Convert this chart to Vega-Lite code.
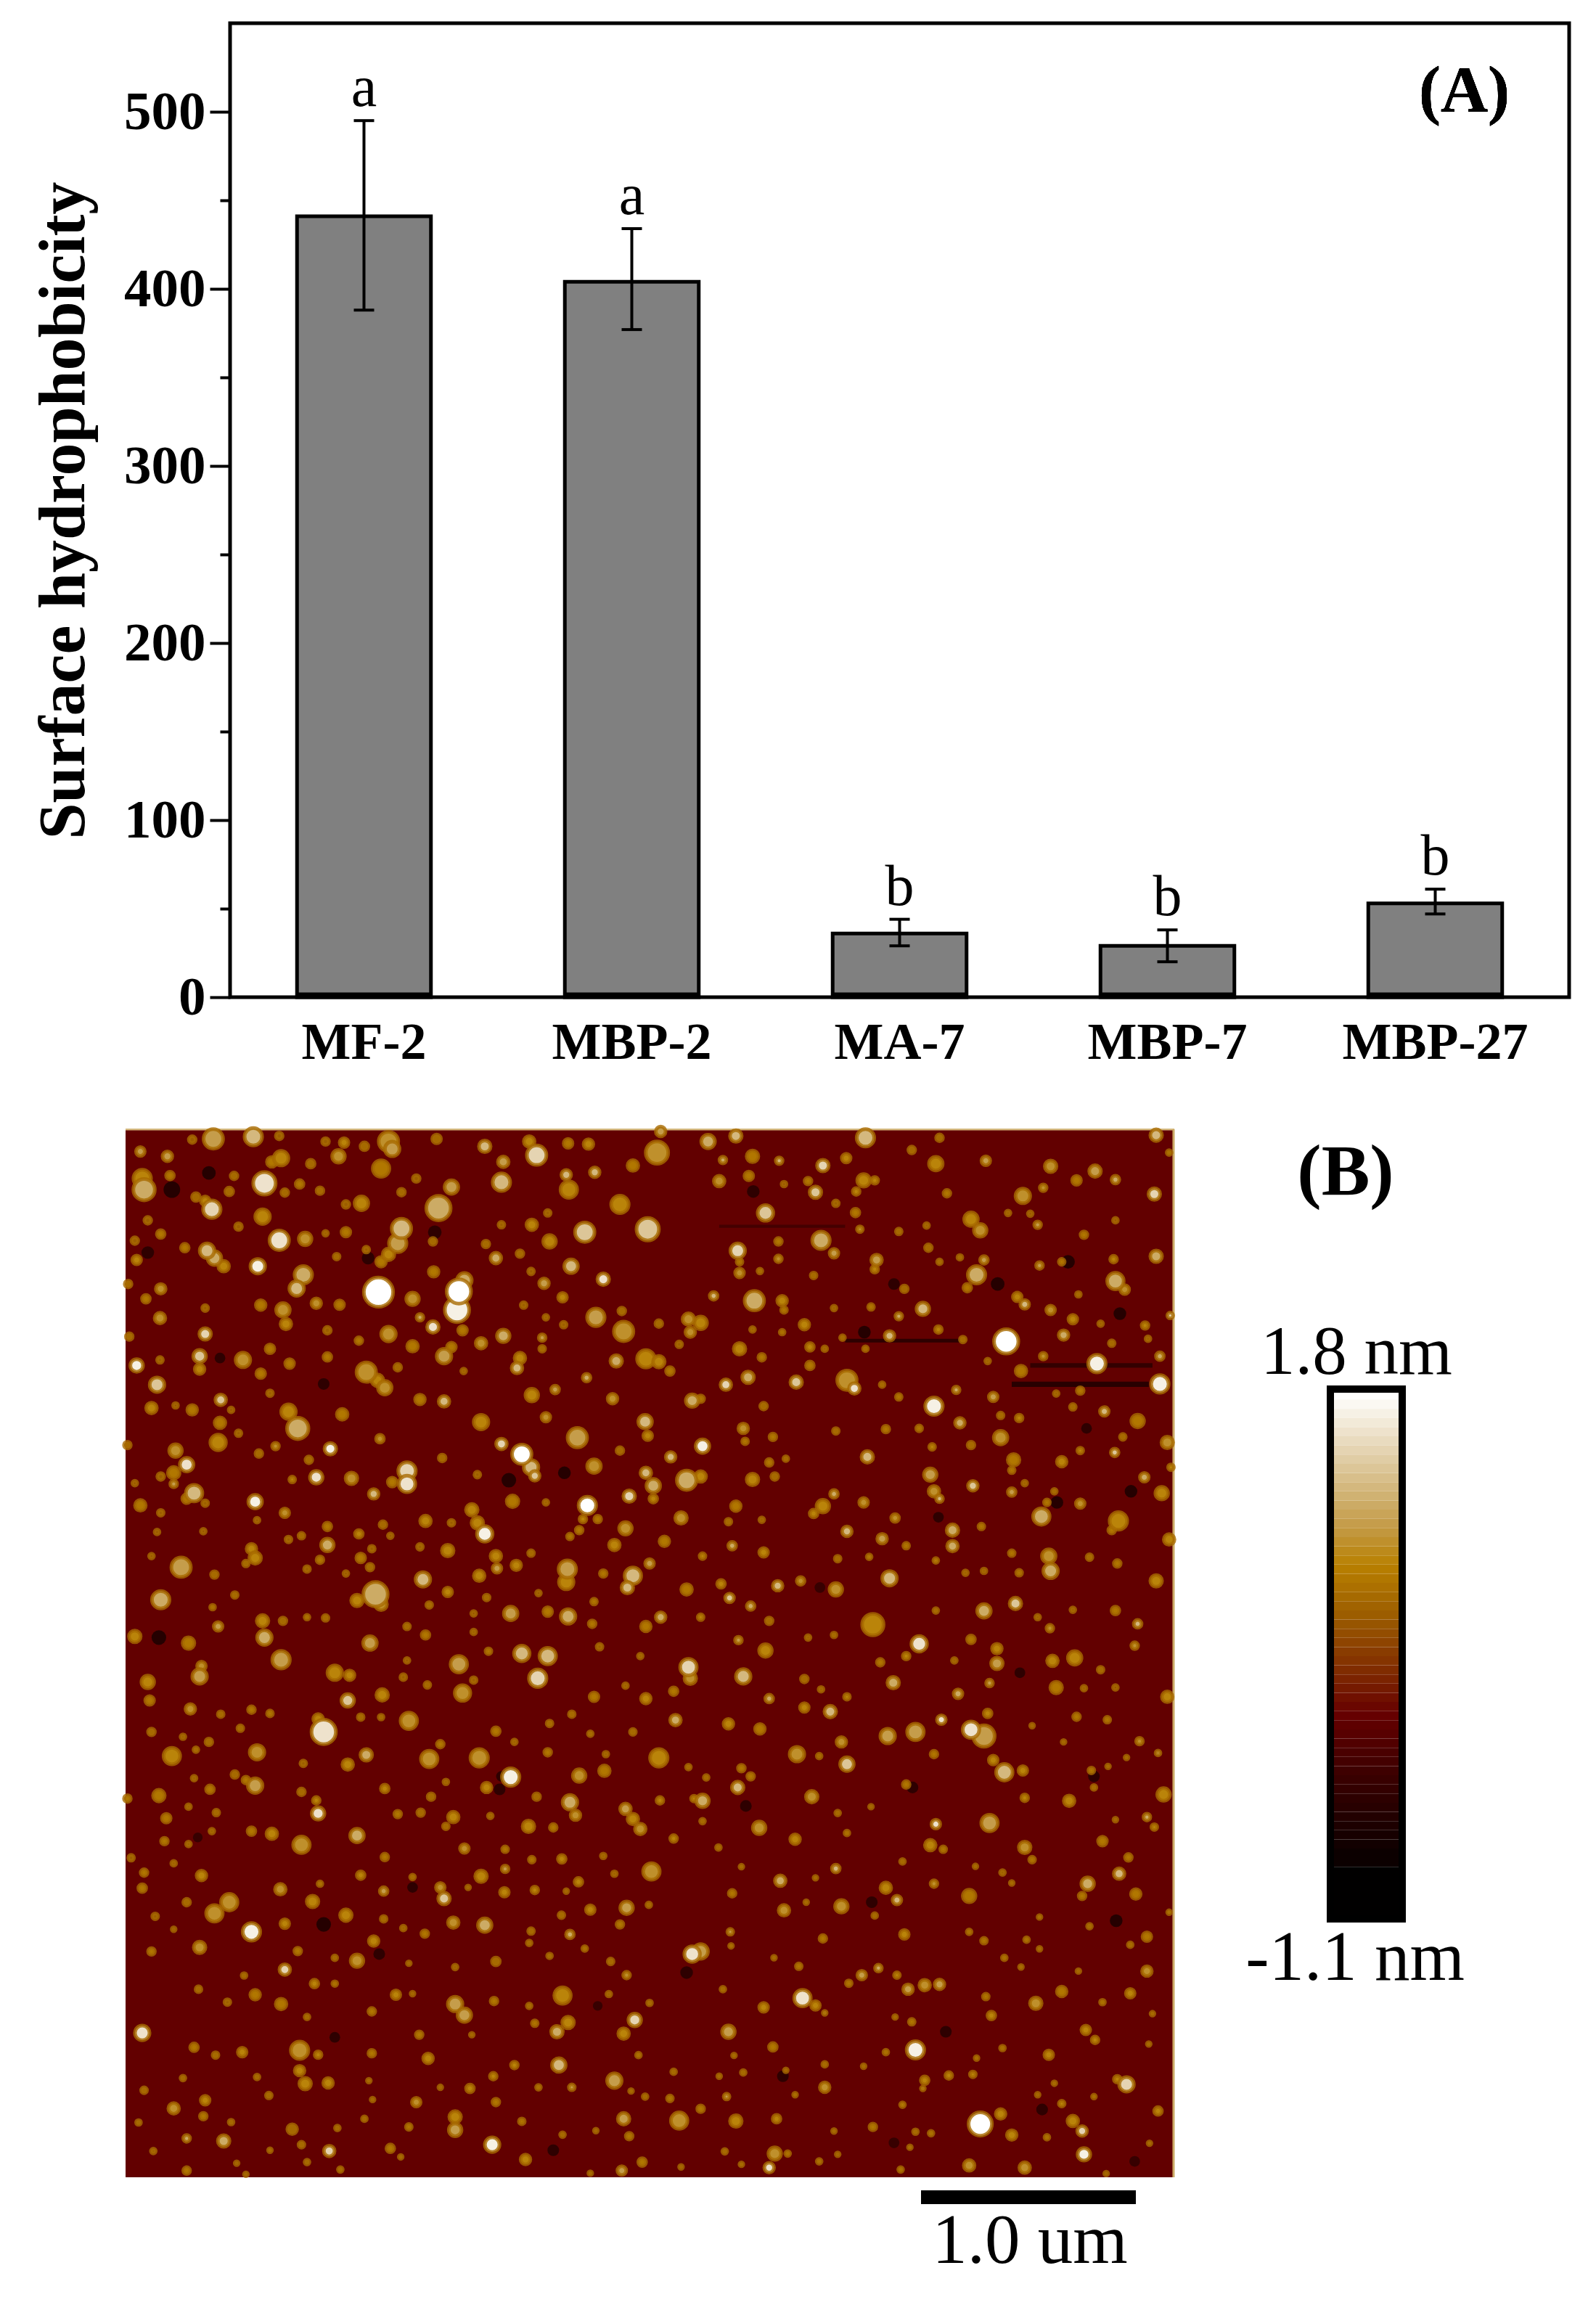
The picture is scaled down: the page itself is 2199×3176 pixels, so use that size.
{"$schema":"https://vega.github.io/schema/vega-lite/v6.json","width":2199,"height":3176,"padding":0,"autosize":{"type":"none"},"background":"white","config":{"view":{"stroke":null},"font":"Liberation Serif","axis":{"grid":false}},
"datasets":{
"bars":[{"sample":"MF-2","value":441,"low":388,"high":495,"group":"a"},{"sample":"MBP-2","value":404,"low":377,"high":434,"group":"a"},{"sample":"MA-7","value":36,"low":29,"high":44,"group":"b"},{"sample":"MBP-7","value":29,"low":20,"high":38,"group":"b"},{"sample":"MBP-27","value":53,"low":47,"high":61,"group":"b"}],
"cbar":[{"z0":1.75,"z1":1.8},{"z0":1.7,"z1":1.75},{"z0":1.65,"z1":1.7},{"z0":1.6,"z1":1.65},{"z0":1.55,"z1":1.6},{"z0":1.5,"z1":1.55},{"z0":1.45,"z1":1.5},{"z0":1.4,"z1":1.45},{"z0":1.35,"z1":1.4},{"z0":1.3,"z1":1.35},{"z0":1.25,"z1":1.3},{"z0":1.2,"z1":1.25},{"z0":1.15,"z1":1.2},{"z0":1.1,"z1":1.15},{"z0":1.05,"z1":1.1},{"z0":1,"z1":1.05},{"z0":0.95,"z1":1},{"z0":0.9,"z1":0.95},{"z0":0.85,"z1":0.9},{"z0":0.8,"z1":0.85},{"z0":0.75,"z1":0.8},{"z0":0.7,"z1":0.75},{"z0":0.65,"z1":0.7},{"z0":0.6,"z1":0.65},{"z0":0.55,"z1":0.6},{"z0":0.5,"z1":0.55},{"z0":0.45,"z1":0.5},{"z0":0.4,"z1":0.45},{"z0":0.35,"z1":0.4},{"z0":0.3,"z1":0.35},{"z0":0.25,"z1":0.3},{"z0":0.2,"z1":0.25},{"z0":0.15,"z1":0.2},{"z0":0.1,"z1":0.15},{"z0":0.05,"z1":0.1},{"z0":0,"z1":0.05},{"z0":-0.05,"z1":0},{"z0":-0.1,"z1":-0.05},{"z0":-0.15,"z1":-0.1},{"z0":-0.2,"z1":-0.15},{"z0":-0.25,"z1":-0.2},{"z0":-0.3,"z1":-0.25},{"z0":-0.35,"z1":-0.3},{"z0":-0.4,"z1":-0.35},{"z0":-0.45,"z1":-0.4},{"z0":-0.5,"z1":-0.45},{"z0":-0.55,"z1":-0.5},{"z0":-0.6,"z1":-0.55},{"z0":-0.65,"z1":-0.6},{"z0":-0.7,"z1":-0.65},{"z0":-0.8,"z1":-0.7},{"z0":-1.1,"z1":-0.8}],
"streaks":[{"x":25,"x2":2857,"y":12,"y2":2843,"z":0.03},{"x":2418,"x2":2788,"y":694,"y2":708,"z":-0.45},{"x":1968,"x2":2288,"y":578,"y2":588,"z":-0.4},{"x":2468,"x2":2798,"y":644,"y2":656,"z":-0.35},{"x":1628,"x2":1968,"y":270,"y2":278,"z":-0.2},{"x":25,"x2":2857,"y":10,"y2":15,"z":1.3},{"x":2852,"x2":2858,"y":12,"y2":2843,"z":1.2}],
"dark":[{"x":150,"y":175,"d":34,"z":-0.6},{"x":115,"y":1385,"d":30,"z":-0.6},{"x":85,"y":345,"d":26,"z":-0.5},{"x":680,"y":360,"d":26,"z":-0.5},{"x":860,"y":290,"d":28,"z":-0.5},{"x":1210,"y":940,"d":26,"z":-0.6},{"x":1060,"y":960,"d":30,"z":-0.6},{"x":250,"y":130,"d":28,"z":-0.6},{"x":560,"y":700,"d":24,"z":-0.5},{"x":280,"y":630,"d":22,"z":-0.5},{"x":560,"y":2160,"d":30,"z":-0.6},{"x":710,"y":2240,"d":24,"z":-0.5},{"x":800,"y":2060,"d":22,"z":-0.5},{"x":590,"y":2465,"d":22,"z":-0.5},{"x":220,"y":1925,"d":20,"z":-0.4},{"x":1035,"y":1795,"d":24,"z":-0.5},{"x":1040,"y":1760,"d":22,"z":-0.5},{"x":1180,"y":2770,"d":24,"z":-0.5},{"x":1540,"y":2290,"d":26,"z":-0.5},{"x":1300,"y":2380,"d":20,"z":-0.4},{"x":1720,"y":180,"d":26,"z":-0.5},{"x":2100,"y":430,"d":24,"z":-0.5},{"x":2380,"y":430,"d":28,"z":-0.6},{"x":2020,"y":560,"d":26,"z":-0.6},{"x":2570,"y":370,"d":28,"z":-0.6},{"x":2710,"y":510,"d":26,"z":-0.6},{"x":2620,"y":820,"d":22,"z":-0.5},{"x":2540,"y":1020,"d":26,"z":-0.6},{"x":2740,"y":990,"d":26,"z":-0.6},{"x":2220,"y":1060,"d":22,"z":-0.5},{"x":1900,"y":1250,"d":22,"z":-0.4},{"x":2440,"y":1480,"d":22,"z":-0.5},{"x":2150,"y":1790,"d":24,"z":-0.5},{"x":2640,"y":1760,"d":24,"z":-0.5},{"x":1700,"y":1840,"d":24,"z":-0.5},{"x":2040,"y":2100,"d":24,"z":-0.5},{"x":2700,"y":2150,"d":26,"z":-0.6},{"x":2240,"y":2450,"d":24,"z":-0.5},{"x":1800,"y":2570,"d":24,"z":-0.5},{"x":2500,"y":2660,"d":24,"z":-0.5},{"x":2100,"y":2750,"d":22,"z":-0.4},{"x":2750,"y":2800,"d":22,"z":-0.4}],
"spots":[
{"x":262,"y":38,"d":40,"z":1.1},{"x":370,"y":32,"d":36,"z":1.3},{"x":735,"y":45,"d":40,"z":1.0},{"x":745,"y":65,"d":30,"z":1.1},{"x":865,"y":38,"d":18,"z":0.7},{"x":205,"y":40,"d":14,"z":0.6},{"x":440,"y":30,"d":14,"z":0.6},{"x":565,"y":45,"d":14,"z":0.6},{"x":615,"y":48,"d":18,"z":0.9},{"x":600,"y":85,"d":26,"z":1.0},{"x":670,"y":58,"d":16,"z":0.7},{"x":995,"y":58,"d":24,"z":1.3},{"x":1115,"y":45,"d":22,"z":0.9},{"x":1135,"y":82,"d":40,"z":1.5},{"x":1220,"y":50,"d":18,"z":0.8},{"x":1275,"y":52,"d":20,"z":0.9},{"x":1460,"y":75,"d":46,"z":1.0},{"x":1470,"y":18,"d":20,"z":1.1},{"x":65,"y":72,"d":18,"z":1.1},{"x":138,"y":85,"d":20,"z":1.1},{"x":445,"y":90,"d":30,"z":0.9},{"x":420,"y":100,"d":20,"z":0.8},{"x":525,"y":105,"d":16,"z":0.7},{"x":715,"y":118,"d":34,"z":0.8},{"x":1045,"y":100,"d":22,"z":1.1},{"x":1040,"y":155,"d":36,"z":1.3},{"x":1215,"y":135,"d":20,"z":1.3},{"x":1292,"y":128,"d":20,"z":1.3},{"x":1395,"y":110,"d":22,"z":0.8},{"x":70,"y":145,"d":36,"z":0.9},{"x":75,"y":175,"d":44,"z":1.2},{"x":145,"y":137,"d":16,"z":0.8},{"x":318,"y":138,"d":14,"z":0.7},{"x":400,"y":158,"d":46,"z":1.6},{"x":495,"y":160,"d":16,"z":0.8},{"x":810,"y":145,"d":14,"z":0.6},{"x":905,"y":168,"d":28,"z":1.1},{"x":1222,"y":175,"d":34,"z":0.9},{"x":455,"y":183,"d":14,"z":0.7},{"x":550,"y":178,"d":14,"z":0.7},{"x":305,"y":180,"d":16,"z":0.7},{"x":770,"y":182,"d":14,"z":0.7},{"x":215,"y":195,"d":16,"z":0.7},{"x":258,"y":228,"d":36,"z":1.5},{"x":240,"y":205,"d":18,"z":0.9},{"x":662,"y":212,"d":28,"z":0.9},{"x":620,"y":215,"d":14,"z":0.6},{"x":870,"y":225,"d":50,"z":1.2},{"x":1360,"y":215,"d":36,"z":0.9},{"x":1165,"y":238,"d":12,"z":0.6},{"x":395,"y":248,"d":30,"z":0.9},{"x":1122,"y":270,"d":22,"z":0.9},{"x":85,"y":258,"d":14,"z":0.6},{"x":330,"y":275,"d":14,"z":0.6},{"x":1040,"y":270,"d":12,"z":0.6},{"x":120,"y":295,"d":16,"z":0.8},{"x":620,"y":290,"d":18,"z":0.8},{"x":770,"y":280,"d":40,"z":1.3},{"x":760,"y":320,"d":36,"z":1.1},{"x":735,"y":350,"d":24,"z":0.9},{"x":715,"y":370,"d":20,"z":0.8},{"x":440,"y":312,"d":40,"z":1.6},{"x":510,"y":308,"d":26,"z":1.0},{"x":565,"y":293,"d":10,"z":0.6},{"x":1265,"y":290,"d":40,"z":1.4},{"x":1435,"y":282,"d":46,"z":1.4},{"x":1170,"y":315,"d":26,"z":0.9},{"x":855,"y":315,"d":14,"z":0.7},{"x":50,"y":313,"d":14,"z":0.6},{"x":998,"y":322,"d":14,"z":0.7},{"x":185,"y":332,"d":16,"z":0.8},{"x":245,"y":340,"d":30,"z":1.3},{"x":265,"y":360,"d":28,"z":1.2},{"x":290,"y":382,"d":22,"z":0.9},{"x":1025,"y":360,"d":22,"z":1.2},{"x":1090,"y":348,"d":14,"z":0.7},{"x":595,"y":356,"d":12,"z":0.7},{"x":675,"y":337,"d":12,"z":0.6},{"x":55,"y":365,"d":18,"z":0.9},{"x":382,"y":382,"d":30,"z":1.7},{"x":1228,"y":382,"d":28,"z":1.3},{"x":505,"y":405,"d":36,"z":1.2},{"x":487,"y":442,"d":30,"z":1.3},{"x":857,"y":397,"d":20,"z":0.8},{"x":1120,"y":396,"d":12,"z":0.6},{"x":1155,"y":428,"d":20,"z":1.1},{"x":1315,"y":417,"d":24,"z":1.6},{"x":120,"y":443,"d":20,"z":1.0},{"x":80,"y":470,"d":16,"z":0.8},{"x":32,"y":430,"d":14,"z":0.7},{"x":708,"y":452,"d":60,"z":1.8},{"x":925,"y":450,"d":50,"z":1.8},{"x":920,"y":500,"d":50,"z":1.7},{"x":940,"y":420,"d":30,"z":1.2},{"x":800,"y":470,"d":26,"z":1.0},{"x":1205,"y":466,"d":18,"z":0.9},{"x":390,"y":487,"d":20,"z":0.8},{"x":540,"y":482,"d":20,"z":1.0},{"x":603,"y":486,"d":18,"z":0.8},{"x":450,"y":500,"d":28,"z":1.0},{"x":458,"y":538,"d":22,"z":0.9},{"x":1100,"y":487,"d":12,"z":0.6},{"x":1365,"y":503,"d":14,"z":0.7},{"x":1295,"y":520,"d":36,"z":1.1},{"x":118,"y":522,"d":22,"z":1.0},{"x":240,"y":495,"d":12,"z":0.6},{"x":1545,"y":525,"d":24,"z":1.0},{"x":820,"y":520,"d":14,"z":1.2},{"x":855,"y":546,"d":24,"z":1.6},{"x":1160,"y":520,"d":10,"z":0.6},{"x":1208,"y":540,"d":12,"z":0.6},{"x":1465,"y":537,"d":14,"z":0.7},{"x":1370,"y":558,"d":40,"z":1.0},{"x":240,"y":565,"d":24,"z":1.5},{"x":1550,"y":560,"d":20,"z":1.0},{"x":35,"y":572,"d":14,"z":0.7},{"x":570,"y":555,"d":14,"z":0.6},{"x":735,"y":565,"d":30,"z":1.0},{"x":935,"y":555,"d":18,"z":0.8},{"x":1045,"y":570,"d":26,"z":1.2},{"x":1150,"y":575,"d":14,"z":1.1},{"x":655,"y":583,"d":14,"z":0.8},{"x":985,"y":590,"d":22,"z":1.0},{"x":800,"y":598,"d":22,"z":0.8},{"x":415,"y":605,"d":18,"z":0.8},{"x":1150,"y":605,"d":12,"z":0.7},{"x":1520,"y":593,"d":12,"z":0.6},{"x":225,"y":625,"d":26,"z":1.4},{"x":885,"y":625,"d":30,"z":1.1},{"x":905,"y":600,"d":18,"z":0.8},{"x":1090,"y":630,"d":22,"z":0.9},{"x":1082,"y":657,"d":22,"z":1.3},{"x":1430,"y":632,"d":36,"z":0.9},{"x":1465,"y":640,"d":24,"z":0.9},{"x":1350,"y":638,"d":24,"z":1.2},{"x":570,"y":627,"d":16,"z":0.8},{"x":342,"y":635,"d":30,"z":1.0},{"x":55,"y":650,"d":26,"z":1.7},{"x":118,"y":635,"d":12,"z":0.6},{"x":225,"y":660,"d":20,"z":0.9},{"x":468,"y":645,"d":18,"z":0.8},{"x":675,"y":668,"d":40,"z":1.0},{"x":705,"y":690,"d":24,"z":0.9},{"x":725,"y":710,"d":28,"z":1.0},{"x":760,"y":655,"d":14,"z":0.7},{"x":1495,"y":665,"d":16,"z":0.8},{"x":1270,"y":683,"d":16,"z":1.2},{"x":938,"y":665,"d":10,"z":0.6},{"x":390,"y":672,"d":18,"z":0.8},{"x":110,"y":702,"d":30,"z":1.4},{"x":1185,"y":715,"d":16,"z":1.1},{"x":1122,"y":730,"d":26,"z":0.9},{"x":415,"y":725,"d":12,"z":0.6},{"x":1340,"y":740,"d":20,"z":1.0},{"x":282,"y":743,"d":22,"z":1.4},{"x":885,"y":747,"d":22,"z":1.3},{"x":820,"y":742,"d":20,"z":0.8},{"x":1555,"y":745,"d":26,"z":1.2},{"x":95,"y":765,"d":22,"z":0.9},{"x":205,"y":770,"d":20,"z":0.8},{"x":465,"y":775,"d":30,"z":0.9},{"x":610,"y":782,"d":22,"z":0.8},{"x":1160,"y":790,"d":18,"z":1.0},{"x":160,"y":758,"d":10,"z":0.5},{"x":310,"y":770,"d":10,"z":0.5},{"x":280,"y":805,"d":22,"z":0.8},{"x":490,"y":820,"d":44,"z":1.2},{"x":985,"y":803,"d":30,"z":0.9},{"x":1428,"y":802,"d":28,"z":1.3},{"x":1435,"y":840,"d":18,"z":0.9},{"x":330,"y":833,"d":12,"z":0.6},{"x":1245,"y":845,"d":40,"z":1.1},{"x":30,"y":865,"d":14,"z":0.7},{"x":275,"y":858,"d":32,"z":0.9},{"x":712,"y":848,"d":16,"z":1.0},{"x":1040,"y":862,"d":22,"z":1.5},{"x":1095,"y":890,"d":40,"z":1.8},{"x":1120,"y":925,"d":30,"z":1.3},{"x":1130,"y":948,"d":20,"z":1.4},{"x":160,"y":880,"d":26,"z":1.0},{"x":430,"y":868,"d":14,"z":1.0},{"x":578,"y":875,"d":24,"z":1.7},{"x":190,"y":918,"d":28,"z":1.6},{"x":385,"y":888,"d":14,"z":0.7},{"x":1360,"y":880,"d":14,"z":0.7},{"x":1497,"y":897,"d":20,"z":1.3},{"x":520,"y":905,"d":14,"z":0.7},{"x":880,"y":900,"d":14,"z":0.7},{"x":1290,"y":922,"d":28,"z":1.0},{"x":155,"y":940,"d":24,"z":0.8},{"x":120,"y":950,"d":14,"z":0.6},{"x":1430,"y":940,"d":22,"z":1.3},{"x":785,"y":935,"d":36,"z":1.5},{"x":785,"y":970,"d":34,"z":1.6},{"x":540,"y":952,"d":26,"z":1.6},{"x":475,"y":958,"d":12,"z":0.9},{"x":635,"y":955,"d":24,"z":1.0},{"x":745,"y":965,"d":18,"z":0.8},{"x":975,"y":945,"d":12,"z":0.6},{"x":1450,"y":975,"d":28,"z":1.2},{"x":1540,"y":960,"d":40,"z":1.2},{"x":155,"y":970,"d":14,"z":1.1},{"x":50,"y":968,"d":10,"z":0.5},{"x":210,"y":995,"d":34,"z":1.3},{"x":190,"y":1010,"d":18,"z":0.8},{"x":695,"y":997,"d":20,"z":1.3},{"x":1385,"y":1003,"d":24,"z":1.5},{"x":1450,"y":1010,"d":16,"z":0.9},{"x":375,"y":1018,"d":28,"z":1.7},{"x":240,"y":1022,"d":12,"z":0.6},{"x":65,"y":1028,"d":22,"z":0.8},{"x":1070,"y":1017,"d":24,"z":0.8},{"x":1160,"y":1020,"d":10,"z":0.6},{"x":1272,"y":1028,"d":36,"z":1.8},{"x":960,"y":1040,"d":24,"z":0.9},{"x":455,"y":1048,"d":18,"z":1.0},{"x":120,"y":1048,"d":12,"z":0.6},{"x":1260,"y":1065,"d":14,"z":0.9},{"x":975,"y":1075,"d":24,"z":0.9},{"x":835,"y":1070,"d":22,"z":0.9},{"x":1525,"y":1062,"d":24,"z":1.0},{"x":1300,"y":1065,"d":14,"z":0.8},{"x":905,"y":1075,"d":12,"z":0.6},{"x":570,"y":1085,"d":16,"z":0.8},{"x":720,"y":1080,"d":14,"z":0.7},{"x":995,"y":1105,"d":32,"z":1.7},{"x":1375,"y":1090,"d":26,"z":1.0},{"x":1250,"y":1095,"d":14,"z":0.8},{"x":1225,"y":1112,"d":12,"z":0.8},{"x":655,"y":1105,"d":16,"z":0.9},{"x":380,"y":1068,"d":10,"z":0.5},{"x":235,"y":1098,"d":10,"z":0.5},{"x":110,"y":1100,"d":10,"z":0.5},{"x":500,"y":1110,"d":12,"z":0.7},{"x":465,"y":1120,"d":12,"z":0.6},{"x":740,"y":1110,"d":10,"z":0.5},{"x":1480,"y":1125,"d":20,"z":0.8},{"x":570,"y":1135,"d":26,"z":1.2},{"x":365,"y":1145,"d":20,"z":0.9},{"x":375,"y":1170,"d":24,"z":0.9},{"x":350,"y":1185,"d":12,"z":0.7},{"x":1345,"y":1135,"d":22,"z":0.9},{"x":550,"y":1175,"d":14,"z":0.8},{"x":895,"y":1150,"d":24,"z":0.9},{"x":690,"y":1145,"d":12,"z":0.6},{"x":820,"y":1140,"d":12,"z":0.6},{"x":1025,"y":1165,"d":22,"z":0.9},{"x":1080,"y":1190,"d":20,"z":0.9},{"x":1028,"y":1198,"d":18,"z":1.1},{"x":1120,"y":1157,"d":12,"z":0.7},{"x":175,"y":1195,"d":40,"z":1.1},{"x":660,"y":1170,"d":18,"z":0.8},{"x":685,"y":1195,"d":14,"z":0.7},{"x":95,"y":1165,"d":10,"z":0.5},{"x":1440,"y":1185,"d":18,"z":1.1},{"x":1218,"y":1200,"d":36,"z":1.1},{"x":1215,"y":1235,"d":30,"z":0.9},{"x":515,"y":1200,"d":12,"z":0.6},{"x":980,"y":1218,"d":22,"z":0.9},{"x":1395,"y":1218,"d":34,"z":1.3},{"x":1380,"y":1250,"d":24,"z":1.3},{"x":265,"y":1215,"d":14,"z":0.7},{"x":1315,"y":1212,"d":14,"z":0.8},{"x":828,"y":1228,"d":30,"z":1.3},{"x":620,"y":1212,"d":10,"z":0.5},{"x":1540,"y":1255,"d":22,"z":0.8},{"x":700,"y":1268,"d":50,"z":1.2},{"x":650,"y":1285,"d":24,"z":0.9},{"x":715,"y":1295,"d":24,"z":1.0},{"x":895,"y":1262,"d":18,"z":0.9},{"x":120,"y":1283,"d":36,"z":1.2},{"x":320,"y":1270,"d":12,"z":0.7},{"x":1000,"y":1277,"d":12,"z":0.7},{"x":1140,"y":1265,"d":10,"z":0.5},{"x":1290,"y":1288,"d":12,"z":0.8},{"x":260,"y":1303,"d":10,"z":0.8},{"x":845,"y":1297,"d":12,"z":0.7},{"x":1065,"y":1320,"d":28,"z":1.1},{"x":1220,"y":1328,"d":30,"z":1.2},{"x":1165,"y":1315,"d":18,"z":0.8},{"x":1470,"y":1330,"d":20,"z":1.2},{"x":1430,"y":1355,"d":20,"z":0.8},{"x":395,"y":1340,"d":24,"z":0.9},{"x":400,"y":1385,"d":30,"z":1.2},{"x":515,"y":1330,"d":10,"z":0.8},{"x":565,"y":1332,"d":12,"z":0.7},{"x":450,"y":1340,"d":14,"z":0.7},{"x":965,"y":1320,"d":10,"z":0.5},{"x":275,"y":1355,"d":18,"z":1.1},{"x":785,"y":1355,"d":12,"z":0.7},{"x":1285,"y":1348,"d":14,"z":0.8},{"x":50,"y":1382,"d":24,"z":0.9},{"x":835,"y":1378,"d":16,"z":0.8},{"x":965,"y":1370,"d":10,"z":0.6},{"x":685,"y":1400,"d":28,"z":1.1},{"x":195,"y":1400,"d":24,"z":0.8},{"x":1305,"y":1410,"d":12,"z":0.6},{"x":1005,"y":1422,"d":12,"z":0.8},{"x":1095,"y":1428,"d":32,"z":1.3},{"x":1165,"y":1435,"d":34,"z":1.3},{"x":445,"y":1445,"d":36,"z":1.1},{"x":925,"y":1457,"d":34,"z":1.1},{"x":1415,"y":1435,"d":10,"z":0.6},{"x":785,"y":1447,"d":10,"z":0.5},{"x":1545,"y":1465,"d":34,"z":1.5},{"x":225,"y":1490,"d":30,"z":1.1},{"x":230,"y":1462,"d":18,"z":1.0},{"x":590,"y":1480,"d":30,"z":0.9},{"x":630,"y":1487,"d":20,"z":0.9},{"x":1138,"y":1495,"d":36,"z":1.5},{"x":85,"y":1505,"d":26,"z":0.9},{"x":1550,"y":1495,"d":24,"z":1.0},{"x":775,"y":1492,"d":12,"z":0.6},{"x":965,"y":1500,"d":12,"z":0.6},{"x":840,"y":1513,"d":12,"z":0.7},{"x":625,"y":1555,"d":26,"z":1.4},{"x":718,"y":1540,"d":24,"z":0.9},{"x":935,"y":1535,"d":32,"z":1.0},{"x":90,"y":1555,"d":18,"z":0.8},{"x":1290,"y":1545,"d":18,"z":0.8},{"x":1430,"y":1550,"d":20,"z":0.9},{"x":1505,"y":1530,"d":16,"z":0.8},{"x":1375,"y":1515,"d":10,"z":0.6},
{"x":1598,"y":45,"d":28,"z":1.2},{"x":1673,"y":30,"d":24,"z":1.3},{"x":2023,"y":35,"d":36,"z":1.3},{"x":2223,"y":35,"d":14,"z":0.7},{"x":2808,"y":28,"d":24,"z":1.3},{"x":1638,"y":95,"d":14,"z":1.2},{"x":1718,"y":85,"d":24,"z":0.8},{"x":1790,"y":97,"d":14,"z":1.3},{"x":1908,"y":110,"d":24,"z":1.5},{"x":1971,"y":90,"d":18,"z":0.9},{"x":2148,"y":68,"d":14,"z":0.7},{"x":2213,"y":105,"d":28,"z":0.9},{"x":2348,"y":97,"d":18,"z":1.1},{"x":2523,"y":112,"d":24,"z":1.0},{"x":2843,"y":75,"d":10,"z":0.8},{"x":1628,"y":152,"d":22,"z":1.0},{"x":1708,"y":138,"d":18,"z":0.8},{"x":1868,"y":152,"d":14,"z":0.8},{"x":1888,"y":182,"d":24,"z":1.4},{"x":2018,"y":150,"d":26,"z":0.9},{"x":1998,"y":180,"d":14,"z":0.9},{"x":2048,"y":150,"d":14,"z":0.9},{"x":2643,"y":125,"d":24,"z":1.1},{"x":2698,"y":148,"d":16,"z":1.2},{"x":2593,"y":150,"d":18,"z":0.8},{"x":2803,"y":187,"d":24,"z":1.5},{"x":2243,"y":185,"d":14,"z":0.8},{"x":2503,"y":170,"d":14,"z":1.0},{"x":2448,"y":192,"d":30,"z":1.0},{"x":1803,"y":160,"d":10,"z":0.5},{"x":1753,"y":238,"d":32,"z":1.4},{"x":1943,"y":212,"d":12,"z":0.6},{"x":1996,"y":237,"d":16,"z":0.8},{"x":2308,"y":255,"d":28,"z":0.9},{"x":2333,"y":285,"d":26,"z":1.0},{"x":2408,"y":238,"d":10,"z":0.6},{"x":2468,"y":240,"d":10,"z":0.5},{"x":2613,"y":297,"d":14,"z":0.8},{"x":2488,"y":270,"d":14,"z":1.1},{"x":2113,"y":288,"d":12,"z":0.7},{"x":2008,"y":282,"d":12,"z":1.0},{"x":2188,"y":272,"d":10,"z":0.6},{"x":1903,"y":312,"d":36,"z":1.2},{"x":1788,"y":315,"d":14,"z":0.8},{"x":2698,"y":258,"d":10,"z":0.5},{"x":1678,"y":340,"d":30,"z":1.5},{"x":1683,"y":400,"d":18,"z":1.0},{"x":1683,"y":370,"d":12,"z":0.8},{"x":1938,"y":347,"d":18,"z":1.1},{"x":1788,"y":362,"d":14,"z":1.0},{"x":2053,"y":365,"d":22,"z":1.1},{"x":2048,"y":390,"d":14,"z":0.9},{"x":2193,"y":332,"d":14,"z":0.7},{"x":2343,"y":365,"d":16,"z":1.1},{"x":2323,"y":405,"d":36,"z":1.2},{"x":2298,"y":440,"d":16,"z":0.8},{"x":2223,"y":370,"d":10,"z":0.7},{"x":2278,"y":358,"d":10,"z":0.7},{"x":2493,"y":380,"d":14,"z":1.1},{"x":2553,"y":370,"d":12,"z":0.8},{"x":2693,"y":363,"d":14,"z":0.9},{"x":2808,"y":355,"d":24,"z":1.2},{"x":2698,"y":422,"d":34,"z":1.2},{"x":2723,"y":445,"d":18,"z":1.0},{"x":1738,"y":395,"d":10,"z":0.7},{"x":1883,"y":407,"d":12,"z":0.7},{"x":1613,"y":462,"d":16,"z":1.3},{"x":1723,"y":475,"d":40,"z":1.2},{"x":1798,"y":475,"d":20,"z":0.9},{"x":1803,"y":500,"d":12,"z":0.8},{"x":2128,"y":443,"d":14,"z":0.7},{"x":2433,"y":465,"d":18,"z":0.9},{"x":2453,"y":485,"d":18,"z":1.3},{"x":2598,"y":458,"d":10,"z":0.7},{"x":2178,"y":497,"d":26,"z":1.3},{"x":2113,"y":517,"d":14,"z":1.2},{"x":2038,"y":492,"d":12,"z":0.8},{"x":1938,"y":495,"d":10,"z":0.6},{"x":2523,"y":500,"d":18,"z":1.0},{"x":2583,"y":525,"d":18,"z":0.9},{"x":2558,"y":568,"d":20,"z":1.2},{"x":1578,"y":535,"d":26,"z":0.9},{"x":1858,"y":540,"d":20,"z":0.9},{"x":1798,"y":560,"d":10,"z":0.8},{"x":1718,"y":553,"d":10,"z":0.6},{"x":2778,"y":542,"d":14,"z":0.9},{"x":2846,"y":515,"d":12,"z":1.5},{"x":2658,"y":537,"d":10,"z":0.6},{"x":2220,"y":553,"d":14,"z":0.9},{"x":2088,"y":570,"d":20,"z":1.3},{"x":1961,"y":575,"d":10,"z":0.7},{"x":2286,"y":580,"d":12,"z":0.7},{"x":2403,"y":585,"d":50,"z":1.8},{"x":2688,"y":590,"d":12,"z":0.7},{"x":2786,"y":578,"d":10,"z":0.6},{"x":1683,"y":605,"d":24,"z":0.9},{"x":1873,"y":600,"d":16,"z":0.9},{"x":1873,"y":650,"d":16,"z":0.8},{"x":1913,"y":605,"d":10,"z":0.6},{"x":2023,"y":605,"d":10,"z":0.7},{"x":1743,"y":628,"d":14,"z":0.8},{"x":2503,"y":625,"d":14,"z":1.0},{"x":2818,"y":625,"d":16,"z":1.2},{"x":2353,"y":638,"d":10,"z":0.6},{"x":2648,"y":645,"d":36,"z":1.7},{"x":2443,"y":665,"d":22,"z":0.8},{"x":1973,"y":690,"d":40,"z":1.0},{"x":1993,"y":712,"d":22,"z":1.6},{"x":1706,"y":682,"d":24,"z":1.2},{"x":1646,"y":702,"d":22,"z":1.5},{"x":1836,"y":695,"d":24,"z":1.4},{"x":2818,"y":700,"d":36,"z":1.7},{"x":2068,"y":702,"d":10,"z":0.7},{"x":2268,"y":716,"d":14,"z":1.2},{"x":2368,"y":735,"d":18,"z":1.1},{"x":2208,"y":760,"d":36,"z":1.7},{"x":2113,"y":735,"d":12,"z":0.8},{"x":2603,"y":718,"d":14,"z":0.8},{"x":2538,"y":726,"d":10,"z":0.6},{"x":1578,"y":740,"d":14,"z":0.8},{"x":1748,"y":760,"d":14,"z":0.7},{"x":2583,"y":762,"d":12,"z":0.7},{"x":2668,"y":774,"d":18,"z":1.3},{"x":2758,"y":800,"d":26,"z":0.8},{"x":2278,"y":805,"d":20,"z":1.2},{"x":2438,"y":792,"d":14,"z":0.9},{"x":2388,"y":785,"d":12,"z":0.7},{"x":1693,"y":820,"d":20,"z":1.0},{"x":1698,"y":855,"d":12,"z":0.8},{"x":1773,"y":843,"d":14,"z":0.8},{"x":1943,"y":827,"d":12,"z":0.7},{"x":2078,"y":822,"d":14,"z":0.8},{"x":2168,"y":820,"d":12,"z":0.8},{"x":2388,"y":845,"d":28,"z":1.0},{"x":2423,"y":905,"d":24,"z":0.8},{"x":2418,"y":933,"d":12,"z":0.8},{"x":2718,"y":843,"d":12,"z":0.7},{"x":2838,"y":858,"d":24,"z":1.0},{"x":1583,"y":868,"d":28,"z":1.7},{"x":2308,"y":865,"d":14,"z":0.7},{"x":2203,"y":870,"d":12,"z":0.9},{"x":2603,"y":880,"d":12,"z":0.9},{"x":2696,"y":885,"d":16,"z":1.4},{"x":2028,"y":897,"d":24,"z":1.3},{"x":1763,"y":912,"d":14,"z":0.8},{"x":1808,"y":902,"d":10,"z":0.7},{"x":2553,"y":910,"d":20,"z":0.9},{"x":2848,"y":925,"d":12,"z":0.9},{"x":1578,"y":950,"d":22,"z":0.9},{"x":1718,"y":958,"d":24,"z":0.9},{"x":1778,"y":950,"d":14,"z":0.7},{"x":2198,"y":945,"d":26,"z":1.1},{"x":2208,"y":990,"d":22,"z":1.0},{"x":2223,"y":1010,"d":14,"z":1.3},{"x":2313,"y":975,"d":20,"z":1.4},{"x":2776,"y":952,"d":18,"z":1.2},{"x":2453,"y":968,"d":10,"z":0.6},{"x":2418,"y":992,"d":16,"z":1.1},{"x":2823,"y":995,"d":26,"z":0.9},{"x":2533,"y":990,"d":10,"z":0.7},{"x":1938,"y":997,"d":16,"z":1.2},{"x":1908,"y":1030,"d":26,"z":0.9},{"x":1883,"y":1050,"d":16,"z":0.9},{"x":2018,"y":1020,"d":18,"z":1.0},{"x":1673,"y":1030,"d":20,"z":0.8},{"x":2513,"y":1020,"d":12,"z":0.8},{"x":2603,"y":1023,"d":18,"z":1.0},{"x":2498,"y":1058,"d":34,"z":1.2},{"x":2103,"y":1062,"d":16,"z":1.0},{"x":2706,"y":1070,"d":36,"z":0.9},{"x":1653,"y":1072,"d":12,"z":0.7},{"x":1743,"y":1067,"d":10,"z":0.6},{"x":2258,"y":1095,"d":24,"z":1.2},{"x":2258,"y":1138,"d":22,"z":1.2},{"x":2336,"y":1085,"d":12,"z":0.8},{"x":1973,"y":1098,"d":20,"z":1.3},{"x":2068,"y":1118,"d":20,"z":1.1},{"x":2688,"y":1095,"d":14,"z":0.8},{"x":2843,"y":1120,"d":22,"z":0.9},{"x":1663,"y":1137,"d":16,"z":1.2},{"x":2133,"y":1137,"d":12,"z":0.8},{"x":1748,"y":1155,"d":18,"z":0.9},{"x":2518,"y":1165,"d":28,"z":1.0},{"x":2523,"y":1205,"d":30,"z":1.2},{"x":2418,"y":1157,"d":12,"z":0.8},{"x":2628,"y":1168,"d":12,"z":0.7},{"x":1583,"y":1165,"d":12,"z":0.9},{"x":2033,"y":1167,"d":10,"z":0.9},{"x":1948,"y":1172,"d":12,"z":0.7},{"x":2213,"y":1177,"d":10,"z":0.9},{"x":2703,"y":1185,"d":14,"z":0.8},{"x":2088,"y":1225,"d":30,"z":1.3},{"x":2438,"y":1210,"d":12,"z":0.8},{"x":2293,"y":1210,"d":10,"z":0.6},{"x":2343,"y":1205,"d":10,"z":0.6},{"x":1633,"y":1240,"d":16,"z":0.9},{"x":1786,"y":1245,"d":20,"z":1.3},{"x":1848,"y":1232,"d":16,"z":1.0},{"x":1943,"y":1255,"d":26,"z":1.0},{"x":2808,"y":1232,"d":24,"z":0.9},{"x":1656,"y":1278,"d":18,"z":1.4},{"x":1713,"y":1300,"d":16,"z":1.2},{"x":2428,"y":1293,"d":24,"z":1.4},{"x":2343,"y":1313,"d":28,"z":1.2},{"x":2213,"y":1312,"d":10,"z":0.7},{"x":2698,"y":1312,"d":16,"z":0.8},{"x":2583,"y":1310,"d":10,"z":0.6},{"x":2043,"y":1350,"d":44,"z":0.9},{"x":1763,"y":1340,"d":14,"z":0.7},{"x":1578,"y":1330,"d":12,"z":0.9},{"x":2488,"y":1330,"d":10,"z":0.6},{"x":2758,"y":1348,"d":16,"z":1.3},{"x":2521,"y":1360,"d":14,"z":1.0},{"x":1938,"y":1378,"d":10,"z":0.7},{"x":1680,"y":1392,"d":14,"z":1.1},{"x":2168,"y":1402,"d":32,"z":1.6},{"x":2133,"y":1435,"d":14,"z":0.9},{"x":2308,"y":1390,"d":16,"z":0.8},{"x":2378,"y":1415,"d":20,"z":0.9},{"x":2378,"y":1455,"d":24,"z":1.1},{"x":2750,"y":1407,"d":14,"z":1.0},{"x":1753,"y":1420,"d":26,"z":0.9},{"x":1868,"y":1385,"d":10,"z":0.6},{"x":2588,"y":1440,"d":28,"z":0.9},{"x":2528,"y":1448,"d":22,"z":0.9},{"x":2063,"y":1452,"d":14,"z":0.8},{"x":2263,"y":1447,"d":10,"z":0.6},{"x":2658,"y":1472,"d":12,"z":0.7},{"x":1693,"y":1490,"d":30,"z":1.3},{"x":1858,"y":1497,"d":14,"z":0.7},{"x":2098,"y":1507,"d":24,"z":1.2},{"x":2358,"y":1508,"d":14,"z":1.1},{"x":2538,"y":1520,"d":24,"z":0.8},{"x":1763,"y":1550,"d":16,"z":1.2},{"x":1973,"y":1545,"d":12,"z":0.9},{"x":2273,"y":1537,"d":18,"z":1.2},{"x":2613,"y":1522,"d":10,"z":0.6},{"x":2838,"y":1545,"d":22,"z":0.9},{"x":2698,"y":1520,"d":10,"z":0.5},{"x":1903,"y":1525,"d":10,"z":0.6},
{"x":200,"y":1578,"d":20,"z":1.0},{"x":282,"y":1592,"d":12,"z":0.7},{"x":365,"y":1580,"d":14,"z":0.8},{"x":415,"y":1590,"d":12,"z":0.8},{"x":660,"y":1600,"d":12,"z":0.7},{"x":715,"y":1600,"d":10,"z":0.7},{"x":790,"y":1610,"d":34,"z":1.0},{"x":560,"y":1640,"d":50,"z":1.6},{"x":545,"y":1605,"d":20,"z":0.9},{"x":95,"y":1640,"d":14,"z":0.7},{"x":335,"y":1630,"d":12,"z":0.7},{"x":1025,"y":1638,"d":16,"z":0.8},{"x":1170,"y":1617,"d":12,"z":0.7},{"x":1280,"y":1645,"d":10,"z":0.7},{"x":1395,"y":1640,"d":12,"z":0.7},{"x":1510,"y":1608,"d":22,"z":1.2},{"x":1230,"y":1592,"d":12,"z":0.7},{"x":180,"y":1653,"d":10,"z":0.6},{"x":875,"y":1673,"d":14,"z":0.8},{"x":1075,"y":1667,"d":10,"z":0.6},{"x":150,"y":1705,"d":34,"z":0.9},{"x":250,"y":1667,"d":14,"z":0.7},{"x":215,"y":1688,"d":10,"z":0.7},{"x":380,"y":1695,"d":30,"z":1.0},{"x":675,"y":1702,"d":24,"z":1.2},{"x":625,"y":1728,"d":22,"z":0.9},{"x":845,"y":1713,"d":34,"z":1.0},{"x":980,"y":1710,"d":36,"z":1.0},{"x":1165,"y":1695,"d":14,"z":0.8},{"x":1322,"y":1700,"d":10,"z":0.6},{"x":1465,"y":1710,"d":36,"z":0.9},{"x":505,"y":1725,"d":12,"z":0.6},{"x":1065,"y":1762,"d":36,"z":1.7},{"x":1000,"y":1790,"d":20,"z":0.9},{"x":1250,"y":1758,"d":26,"z":1.0},{"x":1318,"y":1745,"d":22,"z":0.8},{"x":320,"y":1755,"d":14,"z":0.7},{"x":375,"y":1785,"d":30,"z":1.1},{"x":350,"y":1770,"d":14,"z":0.8},{"x":210,"y":1765,"d":10,"z":0.6},{"x":253,"y":1795,"d":16,"z":0.8},{"x":725,"y":1793,"d":16,"z":0.9},{"x":890,"y":1775,"d":10,"z":0.6},{"x":1545,"y":1735,"d":10,"z":0.7},{"x":500,"y":1802,"d":14,"z":0.7},{"x":115,"y":1812,"d":24,"z":0.8},{"x":850,"y":1815,"d":14,"z":0.7},{"x":1135,"y":1815,"d":14,"z":0.7},{"x":30,"y":1820,"d":14,"z":0.8},{"x":1468,"y":1825,"d":14,"z":0.9},{"x":1560,"y":1820,"d":12,"z":0.9},{"x":545,"y":1860,"d":26,"z":1.6},{"x":540,"y":1825,"d":14,"z":0.9},{"x":1225,"y":1830,"d":30,"z":1.2},{"x":1240,"y":1865,"d":20,"z":1.0},{"x":1375,"y":1848,"d":22,"z":1.1},{"x":1395,"y":1875,"d":22,"z":0.9},{"x":1415,"y":1902,"d":22,"z":1.0},{"x":195,"y":1842,"d":10,"z":0.6},{"x":270,"y":1858,"d":12,"z":0.7},{"x":760,"y":1862,"d":14,"z":0.8},{"x":822,"y":1858,"d":14,"z":0.7},{"x":910,"y":1870,"d":22,"z":0.9},{"x":890,"y":1895,"d":12,"z":0.7},{"x":1010,"y":1867,"d":10,"z":0.6},{"x":135,"y":1873,"d":18,"z":0.8},{"x":1113,"y":1895,"d":24,"z":0.9},{"x":1180,"y":1898,"d":14,"z":0.8},{"x":365,"y":1908,"d":16,"z":0.8},{"x":420,"y":1915,"d":22,"z":0.9},{"x":258,"y":1908,"d":10,"z":0.6},{"x":650,"y":1920,"d":28,"z":1.2},{"x":500,"y":1945,"d":34,"z":1.0},{"x":130,"y":1935,"d":14,"z":0.8},{"x":195,"y":1943,"d":10,"z":0.6},{"x":1505,"y":1928,"d":14,"z":0.9},{"x":940,"y":1955,"d":18,"z":1.0},{"x":1050,"y":1957,"d":12,"z":0.8},{"x":725,"y":1978,"d":14,"z":0.8},{"x":1203,"y":1983,"d":16,"z":0.9},{"x":1122,"y":1985,"d":12,"z":0.8},{"x":1315,"y":1975,"d":10,"z":0.6},{"x":40,"y":1980,"d":12,"z":0.6},{"x":1050,"y":2010,"d":14,"z":1.1},{"x":1445,"y":2017,"d":34,"z":1.0},{"x":985,"y":2030,"d":24,"z":0.9},{"x":75,"y":2020,"d":14,"z":0.8},{"x":230,"y":2028,"d":20,"z":0.9},{"x":155,"y":1995,"d":10,"z":0.6},{"x":660,"y":2027,"d":16,"z":0.9},{"x":800,"y":2032,"d":10,"z":0.7},{"x":1345,"y":2023,"d":10,"z":0.6},{"x":1248,"y":2045,"d":16,"z":0.9},{"x":1130,"y":2067,"d":14,"z":0.9},{"x":550,"y":2050,"d":10,"z":0.8},{"x":70,"y":2062,"d":16,"z":0.8},{"x":443,"y":2065,"d":22,"z":1.0},{"x":722,"y":2070,"d":16,"z":1.1},{"x":875,"y":2060,"d":18,"z":1.0},{"x":885,"y":2090,"d":24,"z":1.4},{"x":1048,"y":2073,"d":18,"z":0.9},{"x":950,"y":2060,"d":8,"z":0.6},{"x":1215,"y":2070,"d":8,"z":0.6},{"x":1378,"y":2115,"d":26,"z":1.1},{"x":1360,"y":2160,"d":14,"z":0.8},{"x":530,"y":2098,"d":24,"z":0.9},{"x":305,"y":2100,"d":34,"z":1.0},{"x":265,"y":2130,"d":34,"z":1.0},{"x":190,"y":2100,"d":14,"z":0.7},{"x":1438,"y":2107,"d":10,"z":0.7},{"x":620,"y":2135,"d":24,"z":0.9},{"x":1280,"y":2120,"d":18,"z":0.9},{"x":1202,"y":2135,"d":12,"z":0.7},{"x":105,"y":2138,"d":12,"z":0.6},{"x":455,"y":2158,"d":18,"z":0.9},{"x":910,"y":2155,"d":22,"z":1.0},{"x":995,"y":2162,"d":28,"z":1.2},{"x":722,"y":2145,"d":12,"z":0.7},{"x":365,"y":2180,"d":36,"z":1.7},{"x":775,"y":2170,"d":10,"z":0.6},{"x":833,"y":2185,"d":14,"z":0.8},{"x":1120,"y":2178,"d":12,"z":0.7},{"x":1225,"y":2187,"d":16,"z":1.2},{"x":155,"y":2173,"d":8,"z":0.5},{"x":695,"y":2205,"d":20,"z":0.9},{"x":225,"y":2222,"d":24,"z":1.0},{"x":95,"y":2233,"d":14,"z":0.8},{"x":1115,"y":2210,"d":10,"z":0.7},{"x":1265,"y":2225,"d":10,"z":0.8},{"x":490,"y":2232,"d":14,"z":0.8},{"x":1555,"y":2240,"d":32,"z":1.6},{"x":650,"y":2258,"d":26,"z":1.0},{"x":590,"y":2250,"d":10,"z":0.7},{"x":1170,"y":2245,"d":10,"z":0.7},{"x":1025,"y":2260,"d":16,"z":0.7},{"x":1335,"y":2260,"d":12,"z":0.7},{"x":790,"y":2265,"d":8,"z":0.6},{"x":455,"y":2282,"d":22,"z":1.5},{"x":915,"y":2275,"d":10,"z":0.6},{"x":1378,"y":2297,"d":14,"z":1.0},{"x":345,"y":2298,"d":10,"z":0.7},{"x":535,"y":2320,"d":16,"z":0.9},{"x":590,"y":2320,"d":10,"z":0.8},{"x":222,"y":2335,"d":12,"z":0.7},{"x":375,"y":2350,"d":20,"z":0.8},{"x":755,"y":2350,"d":18,"z":0.9},{"x":1205,"y":2352,"d":34,"z":0.9},{"x":1330,"y":2348,"d":10,"z":0.6},{"x":445,"y":2375,"d":22,"z":0.8},{"x":300,"y":2370,"d":12,"z":0.6},{"x":800,"y":2347,"d":8,"z":0.6},{"x":915,"y":2375,"d":30,"z":1.1},{"x":940,"y":2405,"d":28,"z":1.1},{"x":1020,"y":2367,"d":14,"z":0.8},{"x":1115,"y":2380,"d":10,"z":0.7},{"x":1440,"y":2372,"d":10,"z":0.7},{"x":690,"y":2395,"d":14,"z":0.8},{"x":515,"y":2410,"d":10,"z":0.7},{"x":1400,"y":2418,"d":26,"z":1.5},{"x":1370,"y":2455,"d":22,"z":0.9},{"x":1220,"y":2425,"d":24,"z":0.9},{"x":1190,"y":2450,"d":24,"z":1.2},{"x":1130,"y":2427,"d":12,"z":0.8},{"x":70,"y":2453,"d":30,"z":1.6},{"x":818,"y":2458,"d":14,"z":0.8},{"x":960,"y":2458,"d":8,"z":0.6},{"x":210,"y":2492,"d":16,"z":0.8},{"x":268,"y":2513,"d":12,"z":0.7},{"x":340,"y":2505,"d":18,"z":0.9},{"x":495,"y":2500,"d":36,"z":1.0},{"x":545,"y":2512,"d":14,"z":0.9},{"x":495,"y":2555,"d":20,"z":0.9},{"x":510,"y":2590,"d":24,"z":0.9},{"x":572,"y":2588,"d":20,"z":0.9},{"x":690,"y":2508,"d":14,"z":0.8},{"x":842,"y":2522,"d":20,"z":0.9},{"x":1410,"y":2513,"d":10,"z":0.8},{"x":1075,"y":2540,"d":14,"z":0.9},{"x":1195,"y":2540,"d":28,"z":1.3},{"x":1345,"y":2582,"d":30,"z":1.1},{"x":1505,"y":2558,"d":10,"z":0.7},{"x":180,"y":2575,"d":10,"z":0.7},{"x":380,"y":2572,"d":10,"z":0.7},{"x":1018,"y":2570,"d":14,"z":0.9},{"x":682,"y":2582,"d":8,"z":0.7},{"x":75,"y":2608,"d":12,"z":0.7},{"x":955,"y":2603,"d":16,"z":0.9},{"x":1140,"y":2600,"d":10,"z":0.8},{"x":1230,"y":2600,"d":12,"z":1.1},{"x":875,"y":2600,"d":8,"z":0.6},{"x":1390,"y":2610,"d":8,"z":0.7},{"x":240,"y":2635,"d":18,"z":0.9},{"x":155,"y":2657,"d":22,"z":1.0},{"x":235,"y":2678,"d":14,"z":0.8},{"x":412,"y":2622,"d":12,"z":0.7},{"x":1025,"y":2640,"d":14,"z":0.8},{"x":810,"y":2640,"d":18,"z":1.0},{"x":692,"y":2633,"d":8,"z":0.6},{"x":1428,"y":2625,"d":10,"z":0.7},{"x":1495,"y":2630,"d":12,"z":0.8},{"x":1520,"y":2690,"d":34,"z":1.0},{"x":1370,"y":2685,"d":24,"z":1.1},{"x":1385,"y":2732,"d":14,"z":0.8},{"x":915,"y":2680,"d":24,"z":0.9},{"x":915,"y":2715,"d":26,"z":1.1},{"x":60,"y":2695,"d":10,"z":0.7},{"x":310,"y":2694,"d":10,"z":0.7},{"x":670,"y":2685,"d":10,"z":0.7},{"x":1095,"y":2692,"d":12,"z":0.8},{"x":475,"y":2713,"d":20,"z":0.7},{"x":597,"y":2710,"d":10,"z":0.7},{"x":790,"y":2707,"d":12,"z":0.8},{"x":190,"y":2738,"d":14,"z":1.2},{"x":290,"y":2745,"d":24,"z":1.2},{"x":1015,"y":2755,"d":30,"z":1.7},{"x":1205,"y":2728,"d":10,"z":0.7},{"x":1295,"y":2717,"d":8,"z":0.6},{"x":500,"y":2755,"d":12,"z":0.7},{"x":575,"y":2772,"d":22,"z":1.5},{"x":740,"y":2765,"d":16,"z":0.8},{"x":100,"y":2772,"d":10,"z":0.6},{"x":415,"y":2770,"d":8,"z":0.7},{"x":1105,"y":2795,"d":20,"z":0.9},{"x":1420,"y":2802,"d":16,"z":0.8},{"x":515,"y":2802,"d":10,"z":0.7},{"x":325,"y":2805,"d":8,"z":0.6},{"x":768,"y":2788,"d":8,"z":0.7},{"x":190,"y":2825,"d":14,"z":0.8},{"x":1365,"y":2825,"d":18,"z":1.1},{"x":605,"y":2822,"d":10,"z":0.7},{"x":1525,"y":2815,"d":8,"z":0.6},{"x":1280,"y":2832,"d":8,"z":0.7},{"x":350,"y":2835,"d":8,"z":0.6},
{"x":2228,"y":1607,"d":18,"z":1.6},{"x":1928,"y":1585,"d":24,"z":1.3},{"x":1858,"y":1574,"d":18,"z":0.9},{"x":1653,"y":1618,"d":20,"z":0.9},{"x":1738,"y":1632,"d":20,"z":0.8},{"x":2083,"y":1651,"d":30,"z":1.1},{"x":2158,"y":1640,"d":34,"z":1.1},{"x":2308,"y":1634,"d":34,"z":1.6},{"x":2343,"y":1651,"d":44,"z":1.1},{"x":2353,"y":1590,"d":16,"z":0.9},{"x":2593,"y":1599,"d":14,"z":0.8},{"x":2676,"y":1607,"d":12,"z":0.8},{"x":2763,"y":1665,"d":14,"z":1.0},{"x":1958,"y":1667,"d":20,"z":1.0},{"x":1838,"y":1700,"d":30,"z":1.0},{"x":1973,"y":1727,"d":28,"z":1.4},{"x":2208,"y":1700,"d":14,"z":0.8},{"x":1898,"y":1705,"d":10,"z":0.7},{"x":2813,"y":1697,"d":10,"z":1.1},{"x":2728,"y":1709,"d":8,"z":0.7},{"x":2558,"y":1667,"d":8,"z":0.6},{"x":2473,"y":1623,"d":8,"z":0.6},{"x":1688,"y":1738,"d":14,"z":0.8},{"x":1713,"y":1760,"d":14,"z":0.8},{"x":1678,"y":1790,"d":24,"z":1.3},{"x":2398,"y":1749,"d":34,"z":1.3},{"x":2368,"y":1716,"d":18,"z":0.9},{"x":2448,"y":1744,"d":18,"z":0.9},{"x":1593,"y":1763,"d":10,"z":0.7},{"x":2633,"y":1744,"d":12,"z":0.8},{"x":2678,"y":1733,"d":8,"z":0.7},{"x":2133,"y":1782,"d":14,"z":0.8},{"x":2640,"y":1790,"d":10,"z":0.7},{"x":1583,"y":1826,"d":26,"z":1.2},{"x":1878,"y":1815,"d":24,"z":1.0},{"x":2453,"y":1818,"d":14,"z":0.9},{"x":2573,"y":1826,"d":22,"z":0.9},{"x":2828,"y":1809,"d":26,"z":0.9},{"x":2038,"y":1842,"d":8,"z":0.6},{"x":1948,"y":1859,"d":10,"z":0.7},{"x":2358,"y":1886,"d":34,"z":1.1},{"x":2213,"y":1889,"d":18,"z":1.6},{"x":1736,"y":1899,"d":26,"z":1.0},{"x":2783,"y":1870,"d":14,"z":1.2},{"x":2803,"y":1897,"d":12,"z":0.9},{"x":2698,"y":1877,"d":8,"z":0.6},{"x":1583,"y":1881,"d":10,"z":0.7},{"x":1833,"y":1930,"d":20,"z":0.9},{"x":1973,"y":1913,"d":10,"z":0.8},{"x":2198,"y":1946,"d":22,"z":0.9},{"x":2233,"y":1957,"d":12,"z":0.8},{"x":2453,"y":1952,"d":24,"z":1.0},{"x":2473,"y":1985,"d":12,"z":0.8},{"x":2663,"y":1935,"d":18,"z":0.8},{"x":1626,"y":1952,"d":10,"z":0.7},{"x":2123,"y":1990,"d":10,"z":0.7},{"x":2733,"y":1979,"d":14,"z":0.8},{"x":2708,"y":2023,"d":22,"z":1.3},{"x":1688,"y":2004,"d":8,"z":0.7},{"x":1943,"y":2009,"d":16,"z":1.3},{"x":2320,"y":2003,"d":8,"z":0.7},{"x":2623,"y":2050,"d":26,"z":1.2},{"x":2608,"y":2083,"d":14,"z":0.8},{"x":1793,"y":2042,"d":22,"z":1.2},{"x":1888,"y":2034,"d":8,"z":0.7},{"x":2078,"y":2061,"d":22,"z":0.9},{"x":2108,"y":2094,"d":18,"z":1.3},{"x":2208,"y":2050,"d":14,"z":1.0},{"x":2393,"y":2020,"d":10,"z":0.6},{"x":2418,"y":2048,"d":8,"z":0.7},{"x":2303,"y":2083,"d":26,"z":0.8},{"x":1663,"y":2076,"d":14,"z":0.8},{"x":2753,"y":2078,"d":20,"z":0.8},{"x":1958,"y":2111,"d":26,"z":1.0},{"x":1803,"y":2122,"d":22,"z":1.0},{"x":1863,"y":2100,"d":8,"z":0.7},{"x":2048,"y":2136,"d":10,"z":0.7},{"x":2493,"y":2140,"d":8,"z":0.8},{"x":2843,"y":2127,"d":8,"z":0.9},{"x":2628,"y":2165,"d":10,"z":0.7},{"x":1658,"y":2180,"d":12,"z":1.1},{"x":2128,"y":2187,"d":18,"z":0.9},{"x":2303,"y":2180,"d":10,"z":0.8},{"x":1908,"y":2198,"d":14,"z":0.8},{"x":2343,"y":2204,"d":12,"z":0.8},{"x":2458,"y":2201,"d":10,"z":0.8},{"x":2783,"y":2193,"d":18,"z":0.8},{"x":2738,"y":2215,"d":10,"z":0.7},{"x":2493,"y":2226,"d":8,"z":0.7},{"x":1578,"y":2233,"d":30,"z":1.1},{"x":1660,"y":2218,"d":8,"z":0.8},{"x":1776,"y":2250,"d":8,"z":0.7},{"x":2398,"y":2250,"d":10,"z":0.8},{"x":1843,"y":2273,"d":12,"z":0.8},{"x":2058,"y":2278,"d":14,"z":1.2},{"x":2013,"y":2297,"d":18,"z":1.1},{"x":1978,"y":2319,"d":12,"z":0.8},{"x":2443,"y":2275,"d":8,"z":0.7},{"x":2783,"y":2286,"d":20,"z":1.0},{"x":2108,"y":2297,"d":12,"z":0.9},{"x":2138,"y":2335,"d":20,"z":1.1},{"x":2183,"y":2324,"d":22,"z":1.0},{"x":2223,"y":2322,"d":20,"z":1.1},{"x":2598,"y":2286,"d":8,"z":0.6},{"x":2553,"y":2341,"d":20,"z":0.8},{"x":2483,"y":2373,"d":24,"z":1.0},{"x":2738,"y":2346,"d":18,"z":0.9},{"x":1638,"y":2335,"d":10,"z":0.7},{"x":1853,"y":2359,"d":34,"z":1.6},{"x":1888,"y":2379,"d":18,"z":0.9},{"x":1913,"y":2399,"d":8,"z":1.0},{"x":1748,"y":2384,"d":18,"z":0.9},{"x":2348,"y":2355,"d":12,"z":0.8},{"x":2363,"y":2406,"d":16,"z":0.9},{"x":2663,"y":2370,"d":10,"z":0.8},{"x":2103,"y":2410,"d":8,"z":0.7},{"x":2798,"y":2401,"d":8,"z":0.7},{"x":1653,"y":2450,"d":26,"z":1.1},{"x":2148,"y":2423,"d":12,"z":0.8},{"x":2618,"y":2445,"d":18,"z":0.9},{"x":2643,"y":2472,"d":14,"z":0.9},{"x":1773,"y":2491,"d":16,"z":0.8},{"x":2158,"y":2499,"d":36,"z":1.7},{"x":2078,"y":2505,"d":10,"z":0.8},{"x":2393,"y":2494,"d":10,"z":0.8},{"x":2518,"y":2512,"d":18,"z":0.9},{"x":2788,"y":2483,"d":8,"z":0.7},{"x":1668,"y":2514,"d":8,"z":0.7},{"x":1913,"y":2538,"d":10,"z":0.7},{"x":2018,"y":2543,"d":8,"z":0.7},{"x":2323,"y":2521,"d":8,"z":0.8},{"x":1693,"y":2560,"d":10,"z":0.7},{"x":1628,"y":2570,"d":8,"z":0.7},{"x":1808,"y":2554,"d":8,"z":0.6},{"x":2183,"y":2581,"d":16,"z":0.9},{"x":2248,"y":2568,"d":14,"z":0.9},{"x":2313,"y":2565,"d":12,"z":0.9},{"x":1913,"y":2600,"d":20,"z":1.0},{"x":2728,"y":2592,"d":30,"z":1.5},{"x":2703,"y":2578,"d":14,"z":0.9},{"x":2533,"y":2589,"d":8,"z":0.7},{"x":1648,"y":2625,"d":12,"z":1.1},{"x":1833,"y":2620,"d":8,"z":0.8},{"x":2640,"y":2625,"d":8,"z":0.8},{"x":2488,"y":2620,"d":8,"z":0.6},{"x":2178,"y":2603,"d":8,"z":1.0},{"x":2553,"y":2644,"d":12,"z":0.9},{"x":2123,"y":2647,"d":10,"z":0.9},{"x":1578,"y":2658,"d":14,"z":0.8},{"x":1673,"y":2691,"d":24,"z":0.9},{"x":1783,"y":2685,"d":16,"z":0.9},{"x":2813,"y":2664,"d":16,"z":0.9},{"x":2333,"y":2699,"d":48,"z":1.8},{"x":2388,"y":2672,"d":20,"z":0.9},{"x":2418,"y":2729,"d":20,"z":0.9},{"x":2583,"y":2691,"d":22,"z":0.9},{"x":2608,"y":2718,"d":20,"z":1.5},{"x":2043,"y":2707,"d":14,"z":0.8},{"x":2158,"y":2720,"d":10,"z":0.7},{"x":2200,"y":2724,"d":10,"z":0.8},{"x":1938,"y":2718,"d":8,"z":0.7},{"x":2513,"y":2735,"d":10,"z":0.8},{"x":2790,"y":2751,"d":8,"z":0.7},{"x":2613,"y":2781,"d":26,"z":1.7},{"x":1643,"y":2773,"d":10,"z":0.7},{"x":1778,"y":2779,"d":26,"z":1.0},{"x":1763,"y":2817,"d":20,"z":1.6},{"x":1813,"y":2779,"d":10,"z":0.8},{"x":1688,"y":2808,"d":8,"z":0.7},{"x":1948,"y":2781,"d":8,"z":0.6},{"x":2143,"y":2762,"d":8,"z":0.8},{"x":1898,"y":2800,"d":10,"z":0.8},{"x":2303,"y":2811,"d":22,"z":1.0},{"x":2453,"y":2817,"d":22,"z":1.0},{"x":2118,"y":2822,"d":10,"z":0.8},{"x":2673,"y":2833,"d":8,"z":0.6}
]},
"resolve":{"scale":{"x":"independent","y":"independent","color":"shared","size":"independent"}},
"layer":[
{"data":{"name":"bars"},
"encoding":{"x":{"field":"sample","type":"nominal","sort":null,"scale":{"range":[317,2162],"paddingInner":0.5,"paddingOuter":0.25},"axis":{"title":null,"labelAngle":0,"ticks":false,"domain":false,"offset":-1802,"labelFontSize":72,"labelFontWeight":"bold","labelFont":"Liberation Serif","labelColor":"black","labelPadding":27,"labelLimit":0}}},
"layer":[
{"mark":{"type":"bar","fill":"#808080","stroke":"black","strokeWidth":5},"encoding":{"y":{"field":"value","type":"quantitative","scale":{"domain":[0,550],"range":[1374,32],"nice":false},"axis":{"title":"Surface hydrophobicity","titleFontSize":90,"titleFontWeight":"bold","titleFont":"Liberation Serif","titleColor":"black","titlePadding":36,"offset":-317,"values":[0,50,100,150,200,250,300,350,400,450,500],"labelExpr":"datum.value % 100 === 0 ? datum.label : ''","labelFontSize":75,"labelFontWeight":"bold","labelFont":"Liberation Serif","labelColor":"black","labelPadding":6,"domain":false,"tickColor":"black","tickWidth":4,"tickSize":{"condition":{"test":"datum.value % 100 === 0","value":28},"value":14}}}}},
{"mark":{"type":"tick","color":"black","opacity":1,"size":187,"thickness":8,"orient":"horizontal"},"encoding":{"y":{"datum":1,"type":"quantitative"}}},
{"mark":{"type":"rule","color":"black","strokeWidth":4},"encoding":{"y":{"field":"low","type":"quantitative"},"y2":{"field":"high"}}},
{"mark":{"type":"tick","color":"black","opacity":1,"size":28,"thickness":4,"orient":"horizontal"},"encoding":{"y":{"field":"low","type":"quantitative"}}},
{"mark":{"type":"tick","color":"black","opacity":1,"size":28,"thickness":4,"orient":"horizontal"},"encoding":{"y":{"field":"high","type":"quantitative"}}},
{"mark":{"type":"text","font":"Liberation Serif","fontSize":80,"baseline":"alphabetic","dy":-20,"color":"black"},"encoding":{"y":{"field":"high","type":"quantitative"},"text":{"field":"group"}}},
{"mark":{"type":"text","font":"Liberation Serif","fontSize":90,"fontWeight":"bold","baseline":"alphabetic","dx":40,"color":"black"},"encoding":{"x":{"datum":"MBP-27"},"y":{"datum":500},"text":{"value":"(A)"}}}
]},
{"data":{"values":[{"a":0,"b":0,"c":1,"d":1}]},"mark":{"type":"rect","fill":null,"stroke":"black","strokeWidth":5},"encoding":{"x":{"field":"a","type":"quantitative","axis":null,"scale":{"domain":[0,1],"range":[317,2162]}},"x2":{"field":"c"},"y":{"field":"b","type":"quantitative","axis":null,"scale":{"domain":[0,1],"range":[1374,32]}},"y2":{"field":"d"}}},
{"encoding":{"x":{"type":"quantitative","axis":null,"scale":{"domain":[25,2857],"range":[173,1618]}},"y":{"type":"quantitative","axis":null,"scale":{"domain":[12,2843],"range":[1556,3000]}}},
"layer":[
{"data":{"name":"streaks"},"mark":{"type":"rect"},"encoding":{"x":{"field":"x","type":"quantitative","axis":null,"scale":{"domain":[25,2857],"range":[173,1618]}},"x2":{"field":"x2"},"y":{"field":"y","type":"quantitative","axis":null,"scale":{"domain":[12,2843],"range":[1556,3000]}},"y2":{"field":"y2"},"color":{"field":"z","type":"quantitative","legend":null,"scale":{"interpolate":"rgb","domain":[-1.1,-0.81,-0.52,-0.23,0.06,0.29,0.58,0.87,1.075,1.365,1.8],"range":["#000000","#000000","#200000","#400000","#660000","#7f2a00","#9a5a00","#b88000","#c39a45","#d9c18f","#ffffff"]}}}},
{"data":{"name":"dark"},"mark":{"type":"circle","opacity":0.8},"encoding":{"x":{"field":"x","type":"quantitative"},"y":{"field":"y","type":"quantitative"},"color":{"field":"z","type":"quantitative"},"size":{"field":"d","type":"quantitative","legend":null,"scale":{"type":"pow","exponent":2,"domain":[0,100],"range":[0,4500]}}}},
{"data":{"name":"spots"},"mark":{"type":"circle","opacity":1,"stroke":"#a86a00","strokeWidth":5,"strokeOpacity":0.8},"encoding":{"x":{"field":"x","type":"quantitative"},"y":{"field":"y","type":"quantitative"},"color":{"field":"z","type":"quantitative"},"size":{"field":"d","type":"quantitative","legend":null,"scale":{"type":"pow","exponent":2,"domain":[0,100],"range":[0,4500]}},"order":{"field":"z"}}}
]},
{"data":{"values":[{"x":0,"y":0,"x2":1,"y2":1}]},"mark":{"type":"rect","fill":"black"},"encoding":{"x":{"field":"x","type":"quantitative","axis":null,"scale":{"domain":[0,1],"range":[1269,1565]}},"x2":{"field":"x2"},"y":{"field":"y","type":"quantitative","axis":null,"scale":{"domain":[0,1],"range":[3018,3037]}},"y2":{"field":"y2"}}},
{"data":{"values":[{"x":0,"y":0,"t":"1.0 um"}]},"mark":{"type":"text","font":"Liberation Serif","fontSize":97,"baseline":"alphabetic","align":"center","color":"black"},"encoding":{"x":{"field":"x","type":"quantitative","axis":null,"scale":{"domain":[0,1],"range":[1419,1420]}},"y":{"field":"y","type":"quantitative","axis":null,"scale":{"domain":[0,1],"range":[3118,3119]}},"text":{"field":"t"}}},
{"data":{"name":"cbar"},"mark":{"type":"rect"},"encoding":{"x":{"datum":0,"type":"quantitative","axis":null,"scale":{"domain":[0,1],"range":[1835,1930]}},"x2":{"datum":1},"y":{"field":"z0","type":"quantitative","axis":null,"scale":{"domain":[-1.1,1.8],"range":[2648,1916]}},"y2":{"field":"z1"},"color":{"field":"z1","type":"quantitative"}}},
{"data":{"values":[{"a":0,"b":0,"c":1,"d":1}]},"mark":{"type":"rect","fill":null,"stroke":"black","strokeWidth":10},"encoding":{"x":{"field":"a","type":"quantitative","axis":null,"scale":{"domain":[0,1],"range":[1833,1932]}},"x2":{"field":"c"},"y":{"field":"b","type":"quantitative","axis":null,"scale":{"domain":[0,1],"range":[2644,1914]}},"y2":{"field":"d"}}},
{"data":{"values":[{"x":0,"y":0,"t":"1.8 nm"}]},"mark":{"type":"text","font":"Liberation Serif","fontSize":95,"baseline":"alphabetic","align":"center","color":"black"},"encoding":{"x":{"field":"x","type":"quantitative","axis":null,"scale":{"domain":[0,1],"range":[1869,1870]}},"y":{"field":"y","type":"quantitative","axis":null,"scale":{"domain":[0,1],"range":[1893,1894]}},"text":{"field":"t"}}},
{"data":{"values":[{"x":0,"y":0,"t":"-1.1 nm"}]},"mark":{"type":"text","font":"Liberation Serif","fontSize":97,"baseline":"alphabetic","align":"center","color":"black"},"encoding":{"x":{"field":"x","type":"quantitative","axis":null,"scale":{"domain":[0,1],"range":[1867,1868]}},"y":{"field":"y","type":"quantitative","axis":null,"scale":{"domain":[0,1],"range":[2728,2729]}},"text":{"field":"t"}}},
{"data":{"values":[{"x":0,"y":0,"t":"(B)"}]},"mark":{"type":"text","font":"Liberation Serif","fontSize":100,"fontWeight":"bold","baseline":"alphabetic","align":"center","color":"black"},"encoding":{"x":{"field":"x","type":"quantitative","axis":null,"scale":{"domain":[0,1],"range":[1854,1855]}},"y":{"field":"y","type":"quantitative","axis":null,"scale":{"domain":[0,1],"range":[1646,1647]}},"text":{"field":"t"}}}
]}
